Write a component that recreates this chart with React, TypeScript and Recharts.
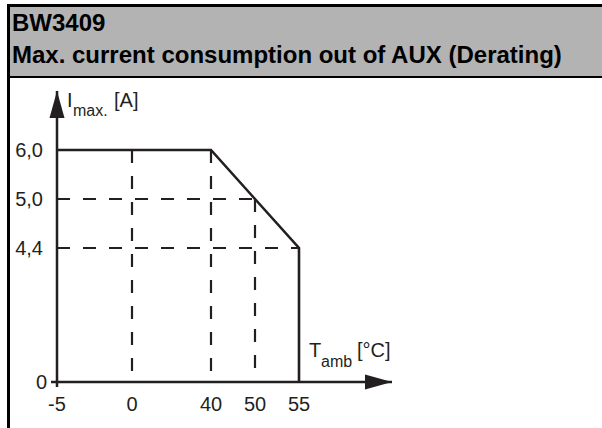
import {LineChart, Line, XAxis, YAxis, ReferenceLine, ReferenceDot} from "recharts";

// derating curve: ambient temperature [°C] -> max. current [A]
const tempC = [-5, 40, 50, 55, 55];
const currentA = [6.0, 6.0, 5.0, 4.4, 0];

const xTickValues = [-5, 0, 40, 50, 55];
const xTickLabels = ["-5", "0", "40", "50", "55"];
const yTickValues = [0, 4.4, 5.0, 6.0];
const yTickLabels = ["0", "4,4", "5,0", "6,0"];

// dashed helper lines: drops to the T axis, levels to the I axis
const dropTemps = [0, 40, 50];
const dropCurrents = [6.0, 6.0, 5.0];
const levelCurrents = [5.0, 4.4];
const levelTemps = [50, 55];

// the axes of this schematic are not linear: where each tick sits along its axis
const xStops = [0, 75, 154, 198, 242];
const yStops = [0, 134, 183, 232];
const X_END = 335;
const Y_END = 291;

const INK = "#231f20";
const FONT = "'Liberation Sans', Arial, sans-serif";

function warp(v: number, values: number[], stops: number[]) {
    for (let i = 0; i < values.length - 1; i++) {
        if (v <= values[i + 1]) {
            const t = (v - values[i]) / (values[i + 1] - values[i]);
            return stops[i] + t * (stops[i + 1] - stops[i]);
        }
    }
    return stops[stops.length - 1];
}

const wx = (v: number) => warp(v, xTickValues, xStops);
const wy = (v: number) => warp(v, yTickValues, yStops);

const curve = tempC.map((t, i) => ({x: wx(t), y: wy(currentA[i])}));
const xTicks = xTickValues.map(wx);
const yTicks = yTickValues.map(wy);

function nearest(arr: number[], v: number) {
    let best = 0;
    arr.forEach((a, i) => {
        if (Math.abs(a - v) < Math.abs(arr[best] - v)) best = i;
    });
    return best;
}

function XTick(props: any) {
    const {x, y, payload} = props;
    const i = nearest(xTicks, payload.value);
    return (
        <g>
            {i === 0 && <line x1={x} x2={x} y1={y} y2={y + 5} stroke={INK} strokeWidth={2.5}/>}
            <text x={x} y={y + 29} textAnchor="middle" fontSize={20} fill={INK} fontFamily={FONT}>
                {xTickLabels[i]}
            </text>
        </g>
    );
}

function YTick(props: any) {
    const {x, y, payload} = props;
    const i = nearest(yTicks, payload.value);
    return (
        <g>
            {i === 0 && <line x1={x - 6} x2={x} y1={y} y2={y} stroke={INK} strokeWidth={2.5}/>}
            <text x={x - (i === 0 ? 10 : 14)} y={y + 7} textAnchor="end" fontSize={20} fill={INK} fontFamily={FONT}>
                {yTickLabels[i]}
            </text>
        </g>
    );
}

const arrowUp = (p: any) => (
    <path d={`M${p.cx},${p.cy} L${p.cx - 7.5},${p.cy + 27} L${p.cx + 7.5},${p.cy + 27} Z`} fill={INK}/>
);
const arrowRight = (p: any) => (
    <path d={`M${p.cx},${p.cy} L${p.cx - 27},${p.cy - 7.5} L${p.cx - 27},${p.cy + 7.5} Z`} fill={INK}/>
);

export default function App() {
    return (
        <div style={{position: "absolute", left: 0, top: 0, width: 602, height: 428, background: "#fff", overflow: "hidden"}}>
            {/* frame + header */}
            <div style={{position: "absolute", left: 9.5, top: 6.5, width: 592.5, height: 69.5, background: "#b3b3b3"}}/>
            <div style={{position: "absolute", left: 7, top: 4, width: 595, height: 2.5, background: "#000"}}/>
            <div style={{position: "absolute", left: 7, top: 4, width: 2.5, height: 424, background: "#000"}}/>
            <div style={{position: "absolute", left: 7, top: 76, width: 595, height: 2, background: "#000"}}/>

            <div style={{position: "absolute", left: 0, top: 0}}>
                <LineChart width={602} height={428} data={curve} margin={{top: 91, right: 210, bottom: 0, left: 0}}>
                    <XAxis
                        type="number"
                        dataKey="x"
                        domain={[0, X_END]}
                        ticks={xTicks}
                        interval={0}
                        height={46}
                        tickSize={0}
                        tickMargin={0}
                        tickLine={false}
                        axisLine={{stroke: INK, strokeWidth: 2.5}}
                        tick={(p: any) => <XTick {...p}/>}
                        allowDataOverflow
                    />
                    <YAxis
                        type="number"
                        dataKey="y"
                        domain={[0, Y_END]}
                        ticks={yTicks}
                        interval={0}
                        width={57}
                        tickSize={0}
                        tickMargin={0}
                        tickLine={false}
                        axisLine={{stroke: INK, strokeWidth: 2.5}}
                        tick={(p: any) => <YTick {...p}/>}
                        allowDataOverflow
                    />
                    {dropTemps.map((t, i) => (
                        <ReferenceLine
                            key={`d${i}`}
                            segment={[{x: wx(t), y: wy(dropCurrents[i])}, {x: wx(t), y: wy(0)}]}
                            stroke={INK}
                            strokeWidth={2.2}
                            strokeDasharray="13 13"
                            ifOverflow="visible"
                        />
                    ))}
                    {levelCurrents.map((c, i) => (
                        <ReferenceLine
                            key={`l${i}`}
                            segment={[{x: wx(-5), y: wy(c)}, {x: wx(levelTemps[i]), y: wy(c)}]}
                            stroke={INK}
                            strokeWidth={2.2}
                            strokeDasharray="13 13"
                            ifOverflow="visible"
                        />
                    ))}
                    <Line
                        type="linear"
                        dataKey="y"
                        stroke={INK}
                        strokeWidth={2.6}
                        strokeLinejoin="miter"
                        dot={false}
                        activeDot={false}
                        isAnimationActive={false}
                    />
                    <ReferenceDot x={0} y={Y_END} r={1} shape={arrowUp} ifOverflow="visible"/>
                    <ReferenceDot x={X_END} y={0} r={1} shape={arrowRight} ifOverflow="visible"/>
                </LineChart>
            </div>

            {/* titles */}
            <svg width={602} height={428} style={{position: "absolute", left: 0, top: 0, pointerEvents: "none"}}>
                <g fontFamily={FONT} fill="#000" fontWeight="bold" fontSize={24}>
                    <text x={12} y={31}>BW3409</text>
                    <text x={12} y={63}>Max. current consumption out of AUX (Derating)</text>
                </g>
                <g fontFamily={FONT} fill={INK}>
                    <text x={67} y={107} fontSize={20}>I</text>
                    <text x={73} y={116} fontSize={16}>max.</text>
                    <text x={114} y={107} fontSize={20}>[A]</text>
                    <text x={309} y={357} fontSize={20}>T</text>
                    <text x={321} y={367} fontSize={16}>amb</text>
                    <text x={357} y={357} fontSize={20}>[°C]</text>
                </g>
            </svg>
        </div>
    );
}
